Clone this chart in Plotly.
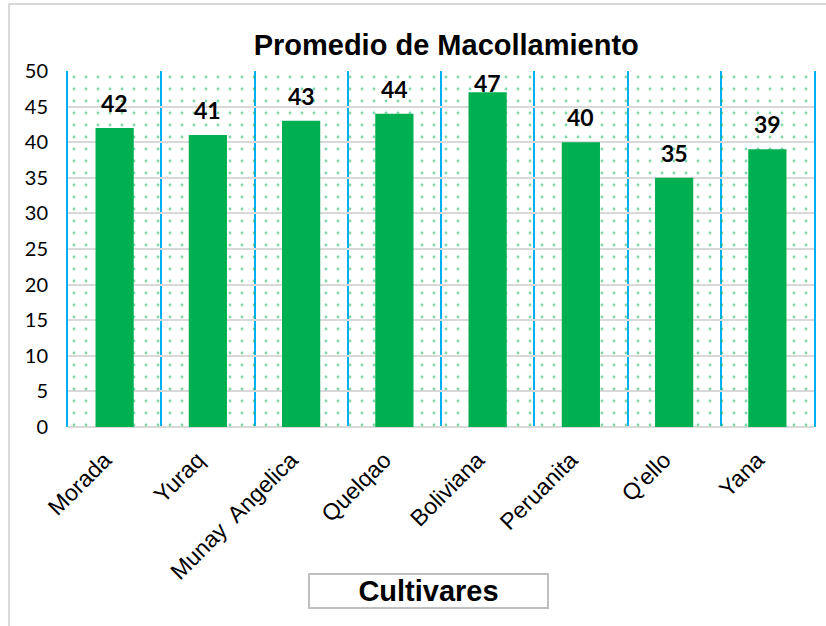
import plotly.graph_objects as go

# Tillering averages per cultivar
cultivares = ["Morada", "Yuraq", "Munay\u00a0 Angelica", "Quelqao",
              "Boliviana", "Peruanita", "Q'ello", "Yana"]
macollos = [42, 41, 43, 44, 47, 40, 35, 39]
y_ticks = [0, 5, 10, 15, 20, 25, 30, 35, 40, 45, 50]

Y_MAX = 50
GREEN = "#00B050"
BLUE = "#00B0F0"
GRID = "#D9D9D9"

fig = go.Figure()

# dotted backdrop filling each category slot
fig.add_trace(go.Bar(
    x=cultivares, y=[Y_MAX] * len(cultivares), width=1,
    marker=dict(color="rgba(0,0,0,0)", line=dict(width=0),
                pattern=dict(shape=".", fgcolor=GREEN, bgcolor="rgba(0,0,0,0)",
                             size=12, solidity=0.045)),
    hoverinfo="skip", showlegend=False,
))

# the value bars
fig.add_trace(go.Bar(
    x=cultivares, y=macollos, width=0.41,
    marker=dict(color=GREEN, line=dict(width=0)),
    showlegend=False,
))

# value labels above the bars, kept inside the plot area
LABEL_OFFSET = 3.5
LABEL_CAP = 48.3
for c, v in zip(cultivares, macollos):
    fig.add_annotation(
        x=c, y=min(v + LABEL_OFFSET, LABEL_CAP), text=str(v),
        showarrow=False, yanchor="middle",
        font=dict(family="Lato", size=23, color="black", weight="bold"),
    )

# axis title inside a framed box
fig.add_annotation(
    x=0.483, y=-0.461, xref="paper", yref="paper",
    text="Cultivares", showarrow=False,
    xanchor="center", yanchor="middle",
    width=233, height=28, borderpad=2,
    bordercolor="#BFBFBF", borderwidth=2, bgcolor="white",
    font=dict(family="Liberation Sans", size=29, color="black", weight="bold"),
)

# outer chart frame
fig.add_shape(
    type="rect", xref="paper", yref="paper",
    x0=-0.079, x1=1.05, y0=-0.6, y1=1.188,
    line=dict(color="#D9D9D9", width=2), fillcolor="rgba(0,0,0,0)",
    layer="below",
)

fig.update_layout(
    width=826, height=626,
    margin=dict(l=68, r=12, t=71, b=199),
    paper_bgcolor="white", plot_bgcolor="white",
    barmode="overlay",
    title=dict(
        text="<b>Promedio de Macollamiento</b>",
        x=0.507, xref="paper", xanchor="center",
        y=1 - 45 / 626, yref="container", yanchor="middle",
        font=dict(family="Liberation Sans", size=29, color="black"),
    ),
    xaxis=dict(
        type="category", range=[-0.5, len(cultivares) - 0.5],
        tickson="boundaries", showgrid=True, gridcolor=BLUE, gridwidth=2,
        ticks="", tickangle=-45, ticklabelstandoff=14, ticklabelshift=-10,
        tickfont=dict(family="Liberation Sans", size=23, color="black"),
        showline=False, zeroline=False, automargin=False, fixedrange=True,
    ),
    yaxis=dict(
        range=[0, Y_MAX], tickvals=y_ticks,
        showgrid=True, gridcolor=GRID, gridwidth=2,
        zeroline=True, zerolinecolor=GRID, zerolinewidth=2,
        showline=True, linecolor=BLUE, linewidth=2, mirror=True,
        ticks="", ticklabelstandoff=14,
        tickfont=dict(family="Lato", size=20, color="black"),
        automargin=False, fixedrange=True,
    ),
)

fig.write_html("out.html", config={"displayModeBar": False})
